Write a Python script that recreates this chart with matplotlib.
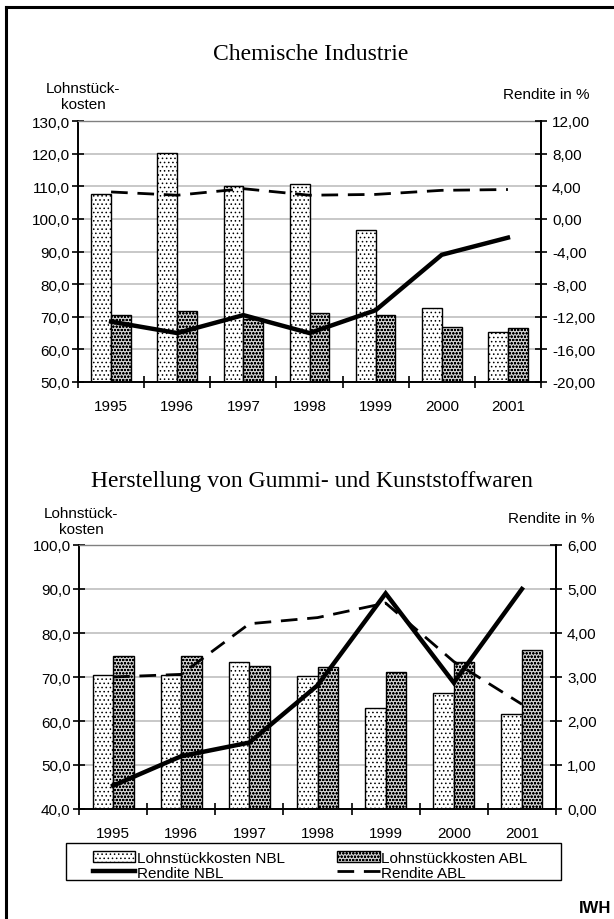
"""Lohnstückkosten und Rendite, NBL vs ABL - two panels (Chemie, Gummi/Kunststoff)."""

import matplotlib
matplotlib.use("Agg")
import matplotlib.pyplot as plt
from matplotlib.patches import Patch, Rectangle
from matplotlib.lines import Line2D
from matplotlib.ticker import FuncFormatter, FixedLocator

# --- data ---
YEARS = ["1995", "1996", "1997", "1998", "1999", "2000", "2001"]

CHEM_LSK_NBL = [107.6, 120.3, 110.0, 110.7, 96.7, 72.8, 65.2]
CHEM_LSK_ABL = [70.4, 71.7, 69.4, 71.0, 70.6, 67.0, 66.6]
CHEM_REND_NBL = [-12.6, -14.0, -11.8, -14.0, -11.2, -4.4, -2.3]
CHEM_REND_ABL = [3.3, 2.9, 3.7, 2.9, 3.0, 3.5, 3.6]

GUMMI_LSK_NBL = [70.5, 70.5, 73.5, 70.3, 62.9, 66.3, 61.6]
GUMMI_LSK_ABL = [74.7, 74.8, 72.6, 72.3, 71.1, 73.5, 76.2]
GUMMI_REND_NBL = [0.53, 1.20, 1.51, 2.81, 4.90, 2.87, 5.00]
GUMMI_REND_ABL = [3.00, 3.06, 4.21, 4.35, 4.68, 3.35, 2.38]

# --- style ---
W, H = 614, 920
SANS = "Liberation Sans"
SERIF = "Liberation Serif"
FS = 11
BAR_W = 0.3
NBL_STYLE = dict(facecolor="white", edgecolor="black", hatch="....", linewidth=1.0)
ABL_STYLE = dict(facecolor="#cfcfcf", edgecolor="black", hatch="ooooo", linewidth=1.0)
GRID_COLOR = "#c4c4c4"

plt.rcParams["hatch.linewidth"] = 0.6
plt.rcParams["font.family"] = SANS


def fx(px):
    return px / W


def fy(py):
    return 1 - py / H


def comma(decimals):
    return FuncFormatter(lambda v, pos: f"{v:.{decimals}f}".replace(".", ","))


def panel(fig, rect, lsk_nbl, lsk_abl, rend_nbl, rend_abl, ylim, y2lim, ystep, y2step):
    ax = fig.add_axes(rect)
    x = list(range(len(YEARS)))
    ax.bar([i - BAR_W / 2 for i in x], lsk_nbl, width=BAR_W, zorder=2, **NBL_STYLE)
    ax.bar([i + BAR_W / 2 for i in x], lsk_abl, width=BAR_W, zorder=2, **ABL_STYLE)

    ax.set_xlim(-0.5, len(YEARS) - 0.5)
    ax.set_ylim(*ylim)
    yt = [ylim[0] + k * ystep for k in range(int(round((ylim[1] - ylim[0]) / ystep)) + 1)]
    ax.set_yticks(yt)
    ax.yaxis.set_major_formatter(comma(1))
    ax.set_xticks(x)
    ax.set_xticklabels(YEARS)
    ax.xaxis.set_minor_locator(FixedLocator([i - 0.5 for i in range(len(YEARS) + 1)]))
    ax.tick_params(axis="x", which="major", length=0, pad=12, labelsize=FS)
    ax.tick_params(axis="x", which="minor", length=8, width=1.2, direction="inout")
    ax.tick_params(axis="y", length=8, width=1.2, direction="inout", pad=2, labelsize=FS)
    ax.set_axisbelow(True)
    ax.grid(axis="y", color=GRID_COLOR, linewidth=1.3)
    ax.spines["top"].set_color("#808080")
    ax.spines["top"].set_linewidth(1.0)
    for s in ("left", "bottom", "right"):
        ax.spines[s].set_linewidth(1.4)

    ax2 = ax.twinx()
    ax2.plot(x, rend_nbl, color="black", lw=3.2, solid_joinstyle="miter", zorder=3)
    ax2.plot(x, rend_abl, color="black", lw=2.0, dashes=(6, 3.5), zorder=3)
    ax2.set_ylim(*y2lim)
    yt2 = [y2lim[0] + k * y2step for k in range(int(round((y2lim[1] - y2lim[0]) / y2step)) + 1)]
    ax2.set_yticks(yt2)
    ax2.yaxis.set_major_formatter(comma(2))
    ax2.tick_params(axis="y", length=8, width=1.2, direction="inout", pad=4, labelsize=FS)
    for s in ("top", "left", "bottom"):
        ax2.spines[s].set_visible(False)
    ax2.spines["right"].set_linewidth(1.4)
    return ax


def main():
    fig = plt.figure(figsize=(W / 100, H / 100), dpi=100)

    # outer frame (left and top only)
    fig.add_artist(Line2D([fx(6), fx(6)], [fy(8), 0], color="black", lw=2.2))
    fig.add_artist(Line2D([fx(6), 1], [fy(8), fy(8)], color="black", lw=2.2))

    # top panel
    fig.text(fx(311), fy(55), "Chemische Industrie", family=SERIF, fontsize=17,
             ha="center", va="center")
    fig.text(fx(83), fy(97), "Lohnstück-\nkosten", fontsize=FS, ha="center", va="center",
             linespacing=1.2)
    fig.text(fx(546), fy(95), "Rendite in %", fontsize=FS, ha="center", va="center")
    panel(fig, [fx(78), fy(383), (541 - 78) / W, (383 - 122) / H],
          CHEM_LSK_NBL, CHEM_LSK_ABL, CHEM_REND_NBL, CHEM_REND_ABL,
          (50, 130), (-20, 12), 10, 4)

    # bottom panel
    fig.text(fx(312), fy(482), "Herstellung von Gummi- und Kunststoffwaren", family=SERIF,
             fontsize=17, ha="center", va="center")
    fig.text(fx(81), fy(522), "Lohnstück-\nkosten", fontsize=FS, ha="center", va="center",
             linespacing=1.2)
    fig.text(fx(551), fy(519), "Rendite in %", fontsize=FS, ha="center", va="center")
    panel(fig, [fx(79), fy(810), (556 - 79) / W, (810 - 546) / H],
          GUMMI_LSK_NBL, GUMMI_LSK_ABL, GUMMI_REND_NBL, GUMMI_REND_ABL,
          (40, 100), (0, 6), 10, 1)

    # legend with its own box
    fig.add_artist(Rectangle((fx(66), fy(881)), (561 - 66) / W, (881 - 844) / H,
                             transform=fig.transFigure, facecolor="white",
                             edgecolor="black", lw=1.0))
    handles = [
        Patch(**NBL_STYLE),
        Line2D([], [], color="black", lw=3.2),
        Patch(**ABL_STYLE),
        Line2D([], [], color="black", lw=2.0, dashes=(6, 3.5)),
    ]
    labels = ["Lohnstückkosten NBL", "Rendite NBL", "Lohnstückkosten ABL", "Rendite ABL"]
    fig.legend(handles, labels, ncol=2, frameon=False, fontsize=FS,
               loc="upper left", bbox_to_anchor=(fx(82), fy(841)),
               handlelength=2.8, handleheight=0.8, handletextpad=0.1,
               columnspacing=3.4, labelspacing=0.05, borderpad=0.2)

    fig.text(fx(611), fy(909), "IWH", fontsize=12, fontweight="bold", ha="right", va="center")

    fig.savefig("out.png", dpi=100)
    plt.close(fig)


if __name__ == "__main__":
    main()
